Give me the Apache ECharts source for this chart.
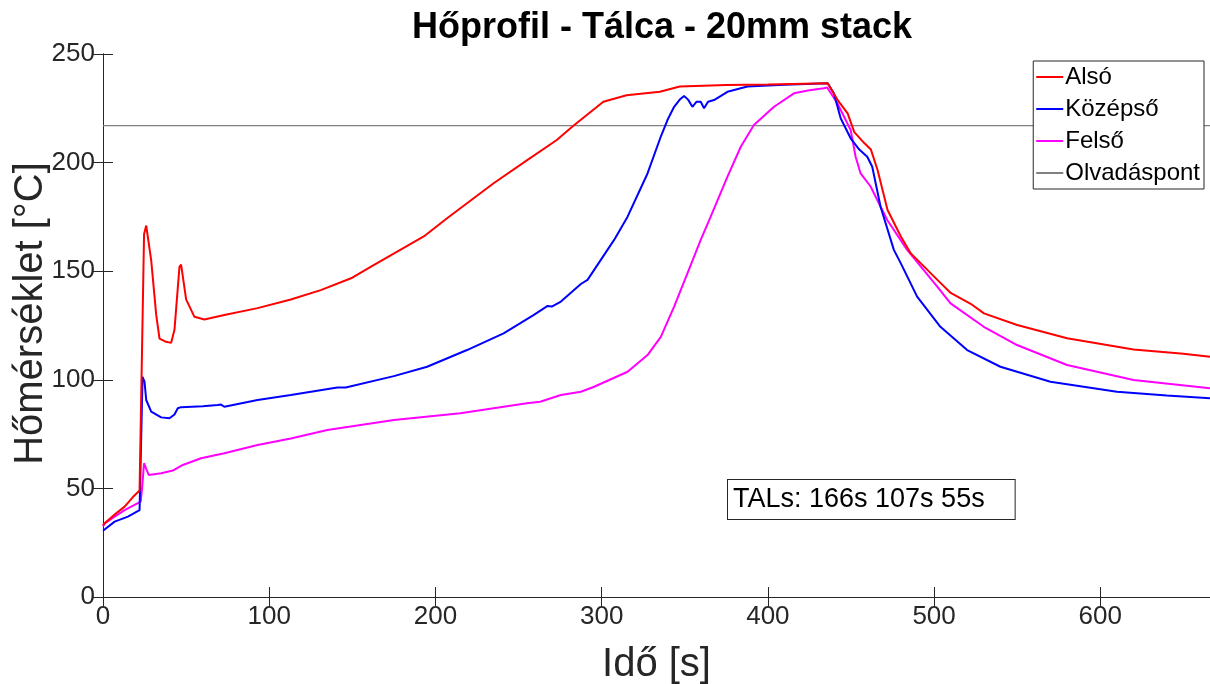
<!DOCTYPE html>
<html>
<head>
<meta charset="utf-8">
<title>Hőprofil</title>
<script src="https://cdn.jsdelivr.net/npm/echarts@6/dist/echarts.min.js"></script>
<style>
  html, body { margin: 0; padding: 0; background: #fff; }
  #main { width: 1210px; height: 684px; }
</style>
</head>
<body>
<div id="main"></div>
<script>
// idő [s] és hőmérséklet [°C] - leolvasott értékek
var alsoT = [0, 1, 7, 13, 18, 22, 23, 24.7, 26, 29, 32, 34, 38, 41, 43, 46, 47, 50, 55, 61, 73, 93, 113, 131, 150, 161, 193, 207, 235, 255, 273, 283, 301, 315, 335, 347, 375, 400, 436, 442, 448, 452, 458, 462, 466, 472, 480, 486, 502, 510, 522, 530, 550, 580, 620, 650, 666];
var alsoV = [33, 34, 38, 41.6, 46, 49, 49.5, 167, 171, 155, 130, 119, 117.5, 117, 123, 152, 153, 137, 129, 127.8, 129.8, 133, 137, 141.3, 147, 152, 166, 174.4, 190.5, 201, 210.4, 217, 228, 231, 232.6, 235, 235.7, 236, 236.5, 228.8, 222.7, 214, 209, 206, 196.6, 178.2, 166, 158.2, 146, 140, 135, 130.6, 125.2, 119.1, 114, 112, 110.6];

var kozepsoT = [0, 1, 7, 15, 22, 23, 23.8, 25, 26, 29, 35, 40, 43, 45, 47, 60, 69, 71, 73, 93, 113, 141, 146, 175, 195, 219, 241, 259, 267.5, 270, 275.5, 287.5, 291.5, 299.5, 307.5, 315.6, 327.6, 335.6, 339.6, 343.6, 347, 349.6, 352, 354.6, 357, 359.6, 361.6, 364, 367.6, 375.7, 387.7, 410, 436, 439.7, 443.8, 449.8, 455, 459.8, 462.8, 467.8, 475.8, 480, 489.8, 503.8, 519.9, 539.9, 570, 610, 640, 666];
var kozepsoV = [30.5, 31, 34.7, 37, 40, 40.8, 101.4, 99, 90.7, 85.3, 82.7, 82.3, 84, 86.9, 87.4, 87.8, 88.4, 88.6, 87.6, 90.7, 93, 96.5, 96.5, 101.7, 106, 113.7, 121.4, 129.8, 134, 133.7, 136, 144.1, 146, 155.2, 164.4, 175.1, 195, 212, 219.6, 225.7, 229, 230.7, 229, 225.7, 228, 228, 225, 228, 228.8, 232.6, 235, 235.8, 236.5, 231.9, 220.4, 211.2, 206, 202.7, 198.1, 179.7, 159.8, 153.6, 138.3, 124.4, 113.7, 106, 99.1, 94.5, 92.8, 91.5];

var felsoT = [0, 1, 7, 13, 22.7, 23.5, 24.7, 26, 27.5, 35, 42, 48, 59, 73, 93, 113, 135, 175, 215, 255, 263, 275.5, 287.5, 295.5, 315.6, 327.6, 335.6, 343.6, 351.6, 359.6, 365.6, 375.7, 383.7, 391.6, 403.7, 415.7, 425, 433.7, 435.7, 441.8, 449.8, 452.8, 455.8, 461.8, 466.8, 471.8, 483.8, 501.9, 509.9, 529.9, 549.9, 580, 620, 666];
var felsoV = [32.5, 33.9, 37, 40, 43.9, 50, 61.6, 59, 56.2, 57, 58.2, 60.8, 63.9, 66.2, 70, 73, 76.9, 81.5, 84.6, 89.2, 89.9, 93, 94.5, 96.8, 103.7, 111.4, 119.8, 133.7, 149, 164.4, 175.1, 193.5, 207.3, 217.3, 225.7, 231.9, 233.3, 234.2, 234.6, 227.3, 215, 202.7, 195, 189, 181.3, 173.6, 159.8, 142.9, 135.2, 124.4, 116, 106.8, 99.9, 96.1];

var olvadaspont = 217;
var xMax = 666;
var yTicks = [0, 50, 100, 150, 200, 250];
var talText = 'TALs: 166s 107s 55s';

function pairs(ts, vs) {
    return ts.map(function (t, i) { return [t, vs[i]]; });
}

var myChart = echarts.init(document.getElementById('main'));

var axisColor = '#262626';
var font = 'Liberation Sans, Arial, sans-serif';

option = {
    animation: false,
    backgroundColor: '#fff',
    title: {
        text: 'Hőprofil - Tálca - 20mm stack',
        left: 657,
        top: 5,
        textAlign: 'center',
        textStyle: { fontFamily: font, fontSize: 36, fontWeight: 'bold', color: '#000' }
    },
    legend: {
        orient: 'vertical',
        right: 6,
        top: 61,
        data: ['Alsó', 'Középső', 'Felső', 'Olvadáspont'],
        icon: 'rect',
        backgroundColor: '#fff',
        borderColor: '#262626',
        borderWidth: 1,
        borderRadius: 0,
        padding: [4, 4, 4, 3],
        itemGap: 8,
        itemWidth: 27,
        itemHeight: 2,
        textStyle: { fontFamily: font, fontSize: 24, color: '#000', padding: [0, 0, 0, -3] }
    },
    grid: {
        left: 103,
        right: 0,
        top: 54,
        bottom: 87,
        containLabel: false,
        outerBoundsMode: 'none'
    },
    xAxis: [{
        type: 'value',
        min: 0,
        max: xMax,
        interval: 100,
        name: 'Idő [s]',
        nameLocation: 'middle',
        nameGap: 48,
        nameMoveOverlap: false,
        nameTextStyle: { fontFamily: font, fontSize: 40, color: axisColor },
        axisLine: { lineStyle: { color: axisColor, width: 1 } },
        axisTick: { inside: true, length: 10, lineStyle: { color: axisColor } },
        axisLabel: { fontFamily: font, fontSize: 26, color: axisColor, margin: 7,
            showMaxLabel: false },
        splitLine: { show: false }
    }, {
        type: 'value',
        position: 'top',
        min: 0,
        max: xMax,
        interval: 100,
        axisLine: { lineStyle: { color: axisColor, width: 1 } },
        axisTick: { inside: true, length: 10, lineStyle: { color: axisColor } },
        axisLabel: { show: false },
        splitLine: { show: false }
    }],
    yAxis: [{
        type: 'value',
        min: yTicks[0],
        max: yTicks[yTicks.length - 1],
        interval: 50,
        name: 'Hőmérséklet [°C]',
        nameLocation: 'middle',
        nameGap: 52,
        nameMoveOverlap: false,
        nameTextStyle: { fontFamily: font, fontSize: 40, color: axisColor, padding: [0, 0, 0, 24] },
        axisLine: { show: true, lineStyle: { color: axisColor, width: 1 } },
        axisTick: { show: true, inside: true, length: 10, lineStyle: { color: axisColor } },
        axisLabel: { fontFamily: font, fontSize: 26, color: axisColor, margin: 8 },
        splitLine: { show: false }
    }, {
        type: 'value',
        position: 'right',
        min: yTicks[0],
        max: yTicks[yTicks.length - 1],
        interval: 50,
        axisLine: { show: true, lineStyle: { color: axisColor, width: 1 } },
        axisTick: { show: true, inside: true, length: 10, lineStyle: { color: axisColor } },
        axisLabel: { show: false },
        splitLine: { show: false }
    }],
    series: [
        {
            name: 'Olvadáspont',
            type: 'line',
            symbol: 'none',
            z: 1,
            lineStyle: { color: '#808080', width: 1.2 },
            itemStyle: { color: '#808080' },
            data: [[0, olvadaspont], [xMax, olvadaspont]]
        },
        {
            name: 'Alsó',
            type: 'line',
            symbol: 'none',
            z: 4,
            lineStyle: { color: '#ff0000', width: 2 },
            itemStyle: { color: '#ff0000' },
            data: pairs(alsoT, alsoV)
        },
        {
            name: 'Középső',
            type: 'line',
            symbol: 'none',
            z: 3,
            lineStyle: { color: '#0000ff', width: 2 },
            itemStyle: { color: '#0000ff' },
            data: pairs(kozepsoT, kozepsoV)
        },
        {
            name: 'Felső',
            type: 'line',
            symbol: 'none',
            z: 2,
            lineStyle: { color: '#ff00ff', width: 2 },
            itemStyle: { color: '#ff00ff' },
            data: pairs(felsoT, felsoV)
        }
    ],
    graphic: [{
        type: 'text',
        left: 727,
        top: 479,
        z: 10,
        style: {
            text: talText,
            font: '27px "Liberation Sans", Arial, sans-serif',
            fill: '#000',
            backgroundColor: '#fff',
            borderColor: '#262626',
            borderWidth: 1,
            padding: [6, 30, 6, 5]
        }
    }]
};

myChart.setOption(option);
</script>
</body>
</html>
